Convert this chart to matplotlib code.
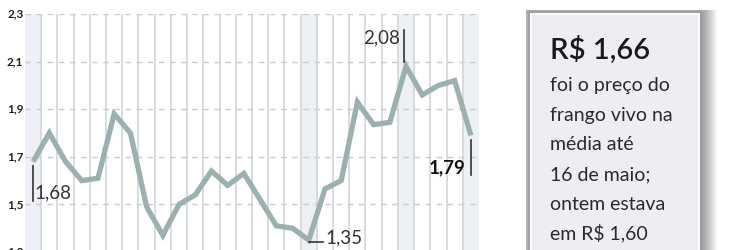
import matplotlib
matplotlib.use("Agg")
import matplotlib.pyplot as plt
from matplotlib.patches import Rectangle

plt.rcParams['font.family'] = ['Lato', 'DejaVu Sans']

# Data (weekly live chicken price, R$/kg)
values = [1.68, 1.80, 1.68, 1.60, 1.61, 1.88, 1.80, 1.49, 1.37, 1.50,
          1.54, 1.64, 1.58, 1.63, 1.52, 1.41, 1.40, 1.35, 1.565, 1.60,
          1.93, 1.835, 1.845, 2.08, 1.96, 2.00, 2.02, 1.79]
shaded_cols = [0, 17, 23, 27]
yticks = [1.3, 1.5, 1.7, 1.9, 2.1, 2.3]
ytick_labels = ["1,3", "1,5", "1,7", "1,9", "2,1", "2,3"]

W, H = 750, 250
fig = plt.figure(figsize=(W / 100, H / 100), dpi=100)
fig.patch.set_facecolor("white")

# axes: x from 25 to 479 px, 2.3 at y=14 px, 1.3 at y=252 px
ax = fig.add_axes([25 / W, (H - 252) / H, 454 / W, 238 / H])
n = len(values)
ax.set_xlim(-0.5, n - 0.5)
ax.set_ylim(1.3, 2.3)
for s in ax.spines.values():
    s.set_visible(False)
ax.set_xticks([])
ax.set_yticks([])
ax.patch.set_alpha(0)

for c in shaded_cols:
    ax.axvspan(c - 0.5, c + 0.5, color="#edf1f5", zorder=0, lw=0)
for i in range(1, n):
    ax.axvline(i - 0.5, color="#d6d9dc", lw=1.3, zorder=1)
for yv in yticks:
    ax.axhline(yv, color="#c9cbcd", lw=1.0, dashes=(4, 4), zorder=1)

ax.plot(range(n), values, color="#9cb0b0", lw=3.8, solid_joinstyle="miter",
        solid_capstyle="butt", zorder=3)

for yv, lab in zip(yticks, ytick_labels):
    ax.text(-0.6, yv, lab, ha="right", va="center", fontsize=8.5,
            fontweight="bold", color="#222222", clip_on=False)

# annotations
ax.plot([0, 0], [1.515, 1.66], color="#333333", lw=1.2, zorder=4)
ax.text(0.1, 1.55, "1,68", ha="left", va="center", fontsize=13.5,
        color="#333333")

ax.plot([17, 17.85], [1.34, 1.34], color="#333333", lw=1.2, zorder=4)
ax.text(18.0, 1.36, "1,35", ha="left", va="center", fontsize=13.5,
        color="#333333")

ax.plot([22.9, 22.9], [2.10, 2.234], color="#333333", lw=1.2, zorder=4)
ax.text(22.6, 2.20, "2,08", ha="right", va="center", fontsize=13.5,
        color="#333333")

ax.plot([27, 27], [1.625, 1.77], color="#333333", lw=1.2, zorder=4)
ax.text(26.65, 1.655, "1,79", ha="right", va="center", fontsize=13.5,
        fontweight="bold", color="#111111")

# side box with soft shadow
bx0, bx1, by0 = 531, 699, 14
for k in range(1, 19):
    fig.patches.append(Rectangle(((bx0 - min(k, 8) * 0.6) / W, -0.1),
                                 (bx1 - bx0 + k + min(k, 8) * 0.6) / W,
                                 (H - by0 + min(k, 6) * 0.7) / H + 0.1,
                                 transform=fig.transFigure,
                                 facecolor="#000000", alpha=0.028, lw=0,
                                 zorder=0))
fig.patches.append(Rectangle((bx0 / W, -0.1), (bx1 - bx0) / W,
                             (H - by0) / H + 0.1,
                             transform=fig.transFigure,
                             facecolor="#eceef1", edgecolor="#fbfbfc",
                             lw=1.5, zorder=1))

fig.text(550 / W, 1 - 50 / H, "R$ 1,66", ha="left", va="center",
         fontsize=21, fontweight="semibold", color="#1a1a1a", zorder=3)
body = ["foi o preço do", "frango vivo na", "média até", "16 de maio;",
        "ontem estava", "em R$ 1,60"]
ys = [85, 115, 144, 175, 204, 233]
for t, yp in zip(body, ys):
    fig.text(550 / W, 1 - yp / H, t, ha="left", va="center", fontsize=14,
             color="#2a2a2a", zorder=3)

fig.savefig("out.png", dpi=100)
